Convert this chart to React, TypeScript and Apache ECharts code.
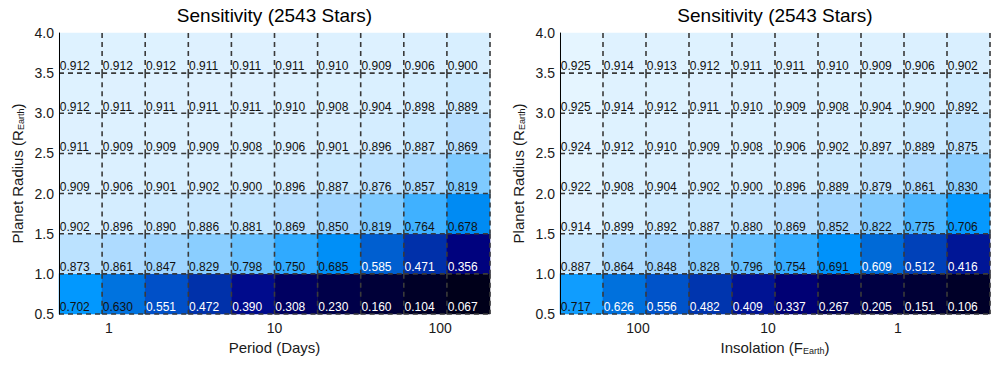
import React, { useEffect, useRef } from "react";
import * as echarts from "echarts";

// ---------- data ----------
const xBins = ["1", "2", "3", "4", "5", "6", "7", "8", "9", "10"];
const radiusBins = ["0.5-1.0", "1.0-1.5", "1.5-2.0", "2.0-2.5", "2.5-3.0", "3.0-3.5", "3.5-4.0"];

// rows from bottom (0.5-1.0 R_Earth) to top (3.5-4.0 R_Earth)
const periodSensitivity = [
  [0.702, 0.630, 0.551, 0.472, 0.390, 0.308, 0.230, 0.160, 0.104, 0.067],
  [0.873, 0.861, 0.847, 0.829, 0.798, 0.750, 0.685, 0.585, 0.471, 0.356],
  [0.902, 0.896, 0.890, 0.886, 0.881, 0.869, 0.850, 0.819, 0.764, 0.678],
  [0.909, 0.906, 0.901, 0.902, 0.900, 0.896, 0.887, 0.876, 0.857, 0.819],
  [0.911, 0.909, 0.909, 0.909, 0.908, 0.906, 0.901, 0.896, 0.887, 0.869],
  [0.912, 0.911, 0.911, 0.911, 0.911, 0.910, 0.908, 0.904, 0.898, 0.889],
  [0.912, 0.912, 0.912, 0.911, 0.911, 0.911, 0.910, 0.909, 0.906, 0.900],
];
const insolationSensitivity = [
  [0.717, 0.626, 0.556, 0.482, 0.409, 0.337, 0.267, 0.205, 0.151, 0.106],
  [0.887, 0.864, 0.848, 0.828, 0.796, 0.754, 0.691, 0.609, 0.512, 0.416],
  [0.914, 0.899, 0.892, 0.887, 0.880, 0.869, 0.852, 0.822, 0.775, 0.706],
  [0.922, 0.908, 0.904, 0.902, 0.900, 0.896, 0.889, 0.879, 0.861, 0.830],
  [0.924, 0.912, 0.910, 0.909, 0.908, 0.906, 0.902, 0.897, 0.889, 0.875],
  [0.925, 0.914, 0.912, 0.911, 0.910, 0.909, 0.908, 0.904, 0.900, 0.892],
  [0.925, 0.914, 0.913, 0.912, 0.911, 0.911, 0.910, 0.909, 0.906, 0.902],
];

const periodTicks = [1, 10, 100];
const insolationTicks = [100, 10, 1];
const periodRange = [0.5, 200]; // days, log extent of the x axis
const insolationRange = [0.196, 398]; // F_Earth, log extent of the x axis
const radiusRange = [0.5, 4.0];

const TITLE = "Sensitivity (2543 Stars)";

// ---------- style ----------
const FONT = '"Liberation Sans", Arial, Helvetica, sans-serif';
const cmap = [
  "#000000", "#000014", "#000026", "#000036", "#000042", "#00004e", "#00005c",
  "#00007c", "#000e90", "#0028a2", "#003cb4", "#0050c8", "#0066d4", "#007be6",
  "#0097fe", "#30aaff", "#6ac2ff", "#a2d6ff", "#d8efff", "#f2faff", "#ffffff",
];

function cells(rows: number[][]) {
  const out: any[] = [];
  rows.forEach((row, j) =>
    row.forEach((v, i) => {
      out.push({ value: [i, j, v], label: { color: v < 0.628 ? "#ffffff" : "#111111" } });
    })
  );
  return out;
}

function gridLines(xIdx: number, yIdx: number, rows: number[][]) {
  const data: number[][] = [];
  rows.forEach((row, j) => row.forEach((_v, i) => data.push([i, j])));
  return {
    type: "custom",
    xAxisIndex: xIdx,
    yAxisIndex: yIdx,
    z: 5,
    silent: true,
    data,
    renderItem: (_p: any, api: any) => {
      const c = api.coord([api.value(0), api.value(1)]);
      const s = api.size([1, 1]);
      const x0 = c[0] - s[0] / 2;
      const x1 = c[0] + s[0] / 2;
      const y0 = c[1] - s[1] / 2;
      const y1 = c[1] + s[1] / 2;
      const style = { stroke: "#3a3a3a", lineWidth: 1.6, lineDash: [5, 4], fill: null };
      return {
        type: "group",
        children: [
          { type: "line", shape: { x1: x1, y1: y0, x2: x1, y2: y1 }, style },
          { type: "line", shape: { x1: x0, y1: y1, x2: x1, y2: y1 }, style },
        ],
      };
    },
  };
}

const tickLabel = { fontSize: 14, color: "#1a1a1a", fontFamily: FONT };
const subRich = {
  a: { fontSize: 15, fontFamily: FONT, color: "#1a1a1a", lineHeight: 20, verticalAlign: "bottom" },
  s: { fontSize: 9, fontFamily: FONT, color: "#1a1a1a", lineHeight: 11, verticalAlign: "bottom" },
};

function radiusAxis(gridIndex: number) {
  return {
    gridIndex,
    type: "value",
    position: "left",
    min: radiusRange[0],
    max: radiusRange[1],
    interval: 0.5,
    z: 10,
    axisLine: { show: true, lineStyle: { color: "#000", width: 1 } },
    axisTick: { show: false },
    splitLine: { show: false },
    axisLabel: { ...tickLabel, margin: 5, formatter: (v: number) => v.toFixed(1) },
    name: "{a|Planet Radius (R}{s|Earth}{a|)}",
    nameLocation: "middle",
    nameGap: 34,
    nameTextStyle: { rich: subRich },
  };
}

function heat(xIdx: number, yIdx: number, rows: number[][]) {
  return {
    type: "heatmap",
    xAxisIndex: xIdx,
    yAxisIndex: yIdx,
    data: cells(rows),
    emphasis: { disabled: true },
    itemStyle: { borderWidth: 0 },
    label: {
      show: true,
      position: "insideBottomLeft",
      distance: 0,
      offset: [1, -1],
      fontSize: 12,
      fontFamily: FONT,
      formatter: (p: any) => p.value[2].toFixed(3),
    },
  };
}

export default function App() {
  const ref = useRef<HTMLDivElement>(null);
  useEffect(() => {
    if (!ref.current) return;
    const chart = echarts.init(ref.current, null, { renderer: "svg" });
    const option: any = {
      animation: false,
      backgroundColor: "#ffffff",
      title: [
        { text: TITLE, left: 274.5, top: 6, padding: 0, textAlign: "center", textStyle: { fontSize: 19, fontWeight: "normal", color: "#000", fontFamily: FONT } },
        { text: TITLE, left: 775, top: 6, padding: 0, textAlign: "center", textStyle: { fontSize: 19, fontWeight: "normal", color: "#000", fontFamily: FONT } },
      ],
      grid: [
        { left: 59, top: 33, width: 431, height: 281 },
        { left: 560, top: 33, width: 430, height: 281 },
      ],
      xAxis: [
        { gridIndex: 0, type: "category", position: "top", data: xBins, show: false },
        {
          gridIndex: 0,
          type: "value",
          position: "bottom",
          min: Math.log10(periodRange[0]),
          max: Math.log10(periodRange[1]),
          axisLine: { show: false },
          axisTick: { show: false },
          splitLine: { show: false },
          axisLabel: {
            ...tickLabel,
            margin: 7,
            customValues: periodTicks.map((t) => Math.log10(t)),
            formatter: (v: number) => String(Math.round(Math.pow(10, v))),
          },
          name: "Period (Days)",
          nameLocation: "middle",
          nameGap: 22,
          nameTextStyle: { fontSize: 15, fontFamily: FONT, color: "#1a1a1a" },
        },
        { gridIndex: 1, type: "category", position: "top", data: xBins, show: false },
        {
          gridIndex: 1,
          type: "value",
          position: "bottom",
          inverse: true,
          min: Math.log10(insolationRange[0]),
          max: Math.log10(insolationRange[1]),
          axisLine: { show: false },
          axisTick: { show: false },
          splitLine: { show: false },
          axisLabel: {
            ...tickLabel,
            margin: 7,
            customValues: insolationTicks.map((t) => Math.log10(t)),
            formatter: (v: number) => String(Math.round(Math.pow(10, v))),
          },
          name: "{a|Insolation (F}{s|Earth}{a|)}",
          nameLocation: "middle",
          nameGap: 21,
          nameTextStyle: { rich: subRich },
        },
      ],
      yAxis: [
        { gridIndex: 0, type: "category", position: "right", data: radiusBins, show: false },
        radiusAxis(0),
        { gridIndex: 1, type: "category", position: "right", data: radiusBins, show: false },
        radiusAxis(1),
      ],
      visualMap: {
        show: false,
        type: "continuous",
        seriesIndex: [0, 2],
        dimension: 2,
        min: 0,
        max: 1,
        inRange: { color: cmap },
      },
      series: [
        heat(0, 0, periodSensitivity),
        gridLines(0, 0, periodSensitivity),
        heat(2, 2, insolationSensitivity),
        gridLines(2, 2, insolationSensitivity),
      ],
    };
    chart.setOption(option);
    return () => chart.dispose();
  }, []);
  return (
    <div
      ref={ref}
      style={{ position: "absolute", left: 0, top: 0, width: 1000, height: 365, background: "#fff" }}
    />
  );
}
